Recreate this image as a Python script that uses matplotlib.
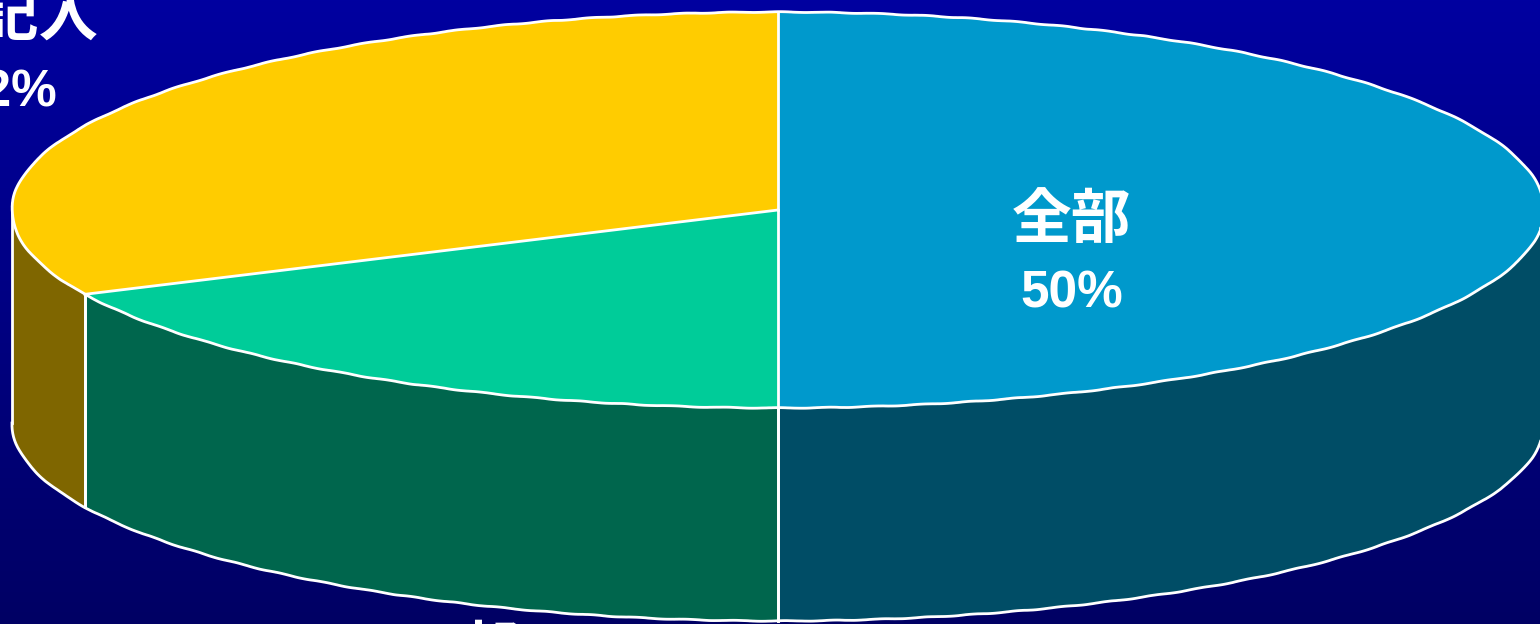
#!/usr/bin/env python3
"""3D-looking pie chart: 全部 / 一部 / 未記入 on a blue gradient."""

import matplotlib
matplotlib.use('Agg')
import matplotlib.pyplot as plt
import numpy as np

plt.rcParams['font.family'] = ['Noto Sans CJK JP', 'DejaVu Sans']

# Data, clockwise from 12 o'clock
names = ['全部', '一部', '未記入']
shares = [50, 18, 32]
top_colors = ['#0099CC', '#00CC99', '#FFCC00']
side_colors = ['#004D66', '#00664D', '#7F6600']

W, H = 1540, 624
cx, cy = 778, 210      # ellipse centre, px
rx, ry = 766, 198      # ellipse radii, px
depth = 213            # wall height, px
lw = 2.0
rough = (0.35, 50, 2)  # slight wobble on the curved edges

fig = plt.figure(figsize=(W / 100, H / 100), dpi=100)
ax = fig.add_axes([0, 0, 1, 1])

# background gradient
grad = np.linspace(0, 1, 256).reshape(-1, 1)
top, bottom = np.array([0, 0, 160]) / 255, np.array([0, 0, 100]) / 255
img = top + (bottom - top) * grad[..., None]
ax.imshow(img, extent=(-cx / rx, (W - cx) / rx, -(H - cy) / ry, cy / ry),
          aspect='auto', zorder=0)

# walls, only the front half of the pie shows
d = depth / ry
a = 90.0
for share, col in zip(shares, side_colors):
    a0, a1 = a - share * 3.6, a
    a = a0
    lo, hi = (a0 + 360) % 360, (a1 + 360) % 360
    if hi <= lo:
        hi += 360
    lo, hi = max(lo, 180), min(hi, 360)
    if hi <= lo:
        continue
    t = np.radians(np.linspace(lo, hi, 200))
    xs = np.cos(t)
    ys = np.sin(t)
    ax.fill(np.r_[xs, xs[::-1]], np.r_[ys, ys[::-1] - d], facecolor=col,
            edgecolor='none', zorder=2)
    # vertical edges of this wall
    for i in (0, -1):
        ax.plot([xs[i], xs[i]], [ys[i], ys[i] - d], color='white', lw=lw, zorder=3)

# top face: unit circle in data space is stretched into the ellipse
ax.pie(shares, colors=top_colors, startangle=90, counterclock=False, radius=1,
       center=(0, 0), frame=True, normalize=True,
       wedgeprops=dict(zorder=4, edgecolor='none'))
ax.set_aspect('auto')
ax.set_xlim(-cx / rx, (W - cx) / rx)
ax.set_ylim(-(H - cy) / ry, cy / ry)
ax.axis('off')

# radial edges on the top face
a = 90.0
for share in shares:
    t = np.radians(a)
    ax.plot([0, np.cos(t)], [0, np.sin(t)], color='white', lw=lw, zorder=5)
    a -= share * 3.6

# curved outlines
t = np.radians(np.linspace(0, 360, 721))
rim, = ax.plot(np.cos(t), np.sin(t), color='white', lw=lw, zorder=5)
rim.set_sketch_params(*rough)
t = np.radians(np.linspace(180, 360, 361))
foot, = ax.plot(np.cos(t), np.sin(t) - d, color='white', lw=lw, zorder=3)
foot.set_sketch_params(*rough)


def to_data(px, py):
    return (px - cx) / rx, (cy - py) / ry


def label(name_x, name_y, name, pct_x, pct_y, pct):
    x, y = to_data(name_x, name_y)
    ax.text(x, y, name, color='white', fontsize=43, fontweight='bold',
            ha='center', va='center', zorder=6)
    x, y = to_data(pct_x, pct_y)
    ax.text(x, y, pct, color='white', fontsize=37, fontweight='bold',
            family=['Liberation Sans', 'DejaVu Sans'],
            ha='center', va='center', zorder=6)


label(1072, 221, names[0], 1072, 294, f'{shares[0]}%')
label(462, 653, names[1], 462, 726, f'{shares[1]}%')
label(9, 18, names[2], 6, 93, f'{shares[2]}%')

fig.savefig('out.png', dpi=100)
plt.close(fig)
